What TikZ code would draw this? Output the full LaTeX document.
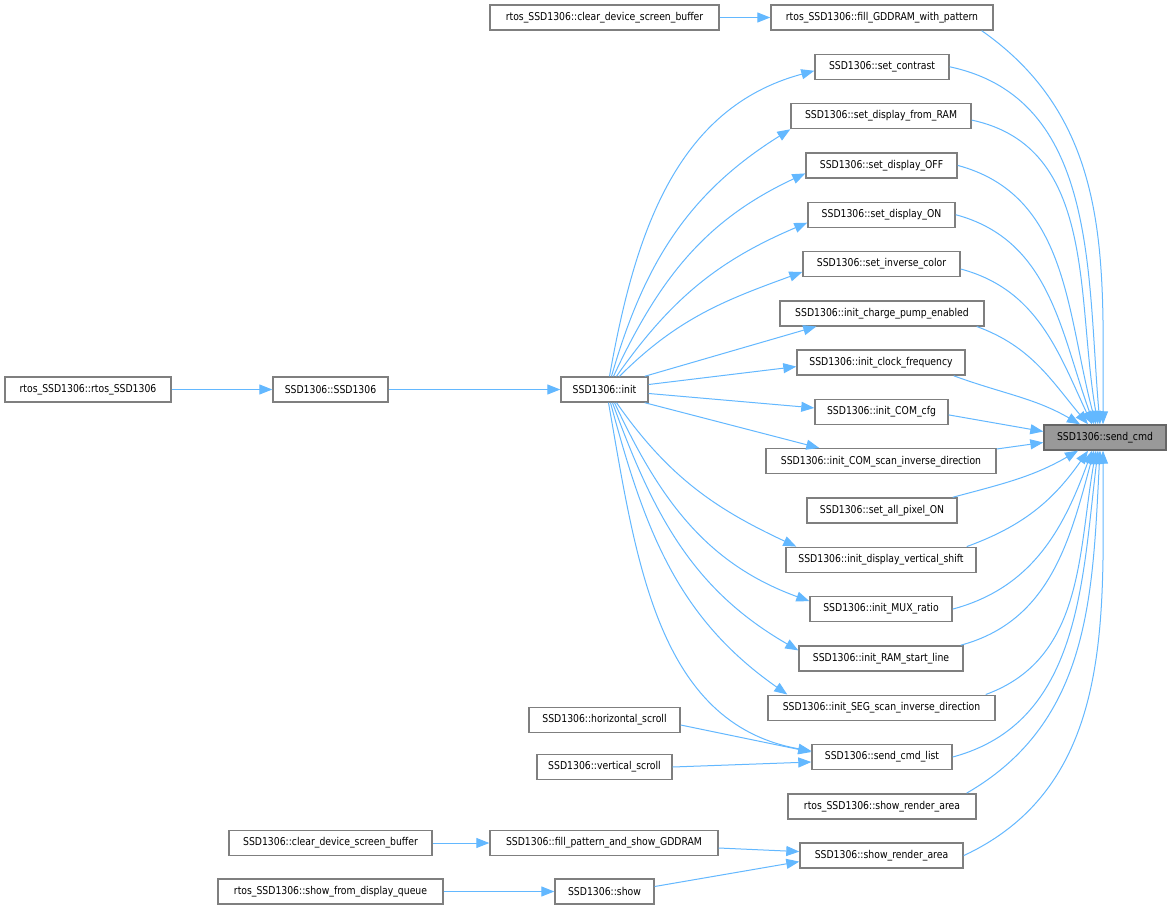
\documentclass[tikz,border=0pt]{standalone}
\usepackage{fontspec}
\setmainfont{DejaVu Sans}[FakeStretch=0.86]
\usepackage{xcolor,tikz}
\usetikzlibrary{arrows.meta,positioning}
\definecolor{edgeblue}{HTML}{63B8FF}
\definecolor{boxgray}{HTML}{7F7F7F}
\definecolor{sendfill}{HTML}{999999}
\tikzset{fnbox/.style={draw=boxgray, fill=white, line width=1.4pt, minimum height=25pt, inner sep=0pt, font=\fontsize{10.8}{12}\selectfont},
callline/.style={draw=edgeblue, line width=1pt, -{Triangle[length=13pt,width=10pt]}}}

\begin{document}
\begin{tikzpicture}[x=1pt,y=1pt]
\fill[white] (0,0) rectangle (1171,-910);
\useasboundingbox (0,0) rectangle (1171,-910);
% callers on the left
\node[fnbox, minimum width=166pt] (rctor) at (88,-389.5) {rtos\_SSD1306::rtos\_SSD1306};
\node[fnbox, minimum width=115pt] (ctor) at (330.5,-389.5) {SSD1306::SSD1306};
\node[fnbox, minimum width=203pt] (clrbuf) at (330.5,-843) {SSD1306::clear\_device\_screen\_buffer};
\node[fnbox, minimum width=225pt] (fromqueue) at (330.5,-891.5) {rtos\_SSD1306::show\_from\_display\_queue};
\node[fnbox, minimum width=229pt] (rclrbuf) at (604.5,-17.5) {rtos\_SSD1306::clear\_device\_screen\_buffer};
\node[fnbox, minimum width=87pt] (init) at (604.5,-389.5) {SSD1306::init};
\node[fnbox, minimum width=151pt] (hscroll) at (604.5,-720) {SSD1306::horizontal\_scroll};
\node[fnbox, minimum width=135pt] (vscroll) at (604.5,-767) {SSD1306::vertical\_scroll};
\node[fnbox, minimum width=228pt] (fillshow) at (604,-843) {SSD1306::fill\_pattern\_and\_show\_GDDRAM};
\node[fnbox, minimum width=99pt] (show) at (604.5,-891.5) {SSD1306::show};
%%%%%%%%%%%%
\node[fnbox, minimum width=222pt] (rfill) at (882,-17.5) {rtos\_SSD1306::fill\_GDDRAM\_with\_pattern};
\node[fnbox, minimum width=134pt] (contrast) at (882,-66.8) {SSD1306::set\_contrast};
\node[fnbox, minimum width=180pt] (ram) at (881,-116.1) {SSD1306::set\_display\_from\_RAM};
\node[fnbox, minimum width=151pt] (off) at (881.5,-165.4) {SSD1306::set\_display\_OFF};
\node[fnbox, minimum width=147pt] (on) at (881.5,-214.7) {SSD1306::set\_display\_ON};
\node[fnbox, minimum width=157pt] (inverse) at (881.5,-264) {SSD1306::set\_inverse\_color};
\node[fnbox, minimum width=204pt] (pump) at (882,-313.3) {SSD1306::init\_charge\_pump\_enabled};
\node[fnbox, minimum width=168pt] (clock) at (881,-362.6) {SSD1306::init\_clock\_frequency};
\node[fnbox, minimum width=133pt] (comcfg) at (881.5,-411.9) {SSD1306::init\_COM\_cfg};
\node[fnbox, minimum width=230pt] (comscan) at (881,-461.2) {SSD1306::init\_COM\_scan\_inverse\_direction};
\node[fnbox, minimum width=150pt] (allon) at (882,-510.5) {SSD1306::set\_all\_pixel\_ON};
\node[fnbox, minimum width=190pt] (vshift) at (881,-559.8) {SSD1306::init\_display\_vertical\_shift};
\node[fnbox, minimum width=142pt] (mux) at (881,-609.1) {SSD1306::init\_MUX\_ratio};
\node[fnbox, minimum width=164pt] (ramstart) at (881,-658.4) {SSD1306::init\_RAM\_start\_line};
\node[fnbox, minimum width=227pt] (seg) at (881.5,-707.7) {SSD1306::init\_SEG\_scan\_inverse\_direction};
\node[fnbox, minimum width=140pt] (cmdlist) at (882,-757) {SSD1306::send\_cmd\_list};
\node[fnbox, minimum width=188pt] (rrender) at (882,-806.3) {rtos\_SSD1306::show\_render\_area};
\node[fnbox, minimum width=163pt] (render) at (881.5,-855.6) {SSD1306::show\_render\_area};
\node[fnbox, fill=sendfill, draw=boxgray!80!black, minimum width=122pt] (send) at (1105,-437.5) {SSD1306::send\_cmd};
%%%%%%%%%%%%
\draw[callline] (rctor.east) -- (ctor.west);
\draw[callline] (ctor.east) -- (init.west);
\draw[callline] (rclrbuf.east) -- (rfill.west);
\draw[callline] (clrbuf.east) -- (fillshow.west);
\draw[callline] (fromqueue.east) -- (show.west);
\draw[callline] ([yshift=-5pt]hscroll.east) -- ([yshift=5pt]cmdlist.west);
\draw[callline] (vscroll.east) -- ([yshift=-5pt]cmdlist.west);
\draw[callline] ([yshift=-5pt]fillshow.east) -- ([yshift=4pt]render.west);
\draw[callline] ([yshift=5pt]show.east) -- ([yshift=-6pt]render.west);
% init fan
\draw[callline] ([xshift=5pt]init.north) to[out=80,in=195] ([yshift=-4pt]contrast.west);
\draw[callline] ([xshift=7pt]init.north) to[out=74,in=212] (ram.south west);
\draw[callline] ([xshift=9pt]init.north) to[out=65,in=205] ([yshift=-8pt]off.west);
\draw[callline] ([xshift=12pt]init.north) to[out=55,in=203] ([yshift=-8pt]on.west);
\draw[callline] ([xshift=15pt]init.north) to[out=45,in=200] ([yshift=-8pt]inverse.west);
\draw[callline] ([xshift=-4pt]init.north east) -- ([xshift=37pt]pump.south west);
\draw[callline] ([yshift=5pt]init.east) -- ([yshift=-4pt]clock.west);
\draw[callline] ([yshift=-4pt]init.east) -- ([yshift=4pt]comcfg.west);
\draw[callline] ([xshift=-4pt]init.south east) -- ([xshift=54pt]comscan.north west);
\draw[callline] ([xshift=12pt]init.south) to[out=-55,in=155] ([xshift=11pt]vshift.north west);
\draw[callline] ([xshift=10pt]init.south) to[out=-65,in=160] ([yshift=8pt]mux.west);
\draw[callline] ([xshift=8pt]init.south) to[out=-70,in=150] ([yshift=8pt]ramstart.west);
\draw[callline] ([xshift=6pt]init.south) to[out=-75,in=145] ([xshift=20pt]seg.north west);
\draw[callline] ([xshift=4pt]init.south) to[out=-80,in=170] ([yshift=6pt]cmdlist.west);
% into send_cmd
\draw[callline] ([xshift=-12pt]rfill.south east) to[out=-35,in=90] ([xshift=-2pt]send.north);
\draw[callline] (contrast.east) to[out=-12,in=95] ([xshift=-5pt]send.north);
\draw[callline] ([yshift=-4pt]ram.east) to[out=-12,in=100] ([xshift=-7pt]send.north);
\draw[callline] (off.east) to[out=-15,in=105] ([xshift=-9pt]send.north);
\draw[callline] (on.east) to[out=-15,in=110] ([xshift=-11pt]send.north);
\draw[callline] ([yshift=-5pt]inverse.east) to[out=-15,in=115] ([xshift=-13pt]send.north);
\draw[callline] ([xshift=-8pt]pump.south east) to[out=-20,in=130] ([xshift=-17pt]send.north);
\draw[callline] ([xshift=-12pt]clock.south east) to[out=-20,in=150] ([xshift=-25pt]send.north);
\draw[callline] ([yshift=-3pt]comcfg.east) -- ([yshift=6pt]send.west);
\draw[callline] ([yshift=-1pt]comscan.north east) -- ([yshift=-5pt]send.west);
\draw[callline] ([xshift=-5pt]allon.north east) to[out=15,in=-150] ([xshift=-27pt]send.south);
\draw[callline] ([xshift=-10pt]vshift.north east) to[out=20,in=-125] ([xshift=-17pt]send.south);
\draw[callline] (mux.east) to[out=15,in=-110] ([xshift=-13pt]send.south);
\draw[callline] ([xshift=-3pt]ramstart.north east) to[out=15,in=-105] ([xshift=-11pt]send.south);
\draw[callline] ([xshift=-10pt]seg.north east) to[out=20,in=-100] ([xshift=-9pt]send.south);
\draw[callline] (cmdlist.east) to[out=15,in=-97] ([xshift=-7pt]send.south);
\draw[callline] ([xshift=-10pt]rrender.north east) to[out=30,in=-93] ([xshift=-5pt]send.south);
\draw[callline] (render.east) to[out=25,in=-90] ([xshift=-2pt]send.south);
\end{tikzpicture}
\end{document}
